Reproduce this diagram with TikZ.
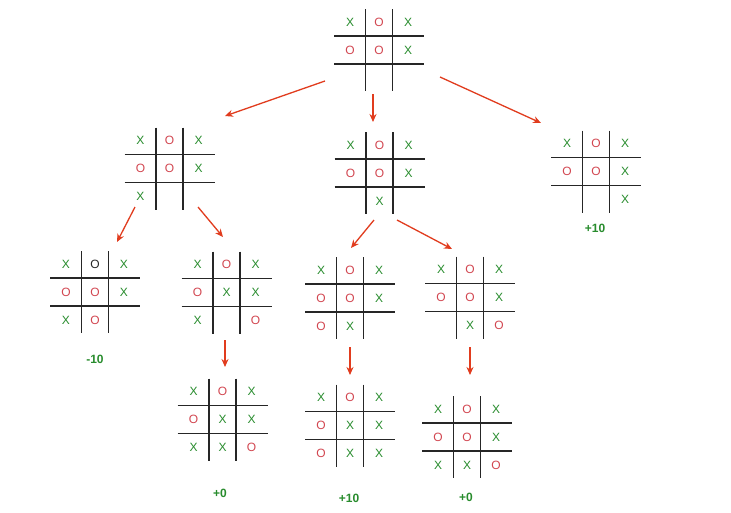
\documentclass[tikz,border=0pt]{standalone}
\usepackage{fontspec}
\setmainfont{Liberation Sans}
\usetikzlibrary{calc,arrows.meta}
\definecolor{xgreen}{RGB}{40,140,45}
\definecolor{ored}{RGB}{210,70,80}
\definecolor{movered}{RGB}{225,60,30}
\tikzset{
  gridline/.style={line width=1.1pt, black!85},
  cellx/.style={text=xgreen, font=\fontsize{12}{14}\selectfont},
  cello/.style={text=ored, font=\fontsize{12}{14}\selectfont},
  cellk/.style={text=black!85, font=\fontsize{12}{14}\selectfont},
  celln/.style={},
  move/.style={movered, line width=1.3pt, -{Stealth[length=8pt,width=7pt]}},
  score/.style={text=xgreen, font=\bfseries\fontsize{12}{14}\selectfont}
}
\def\txtx{X}\def\txto{O}\def\txtk{O}\def\txtn{}
% board: name, centre, nine cells row by row
\newcommand{\board}[3]{%
  \coordinate (#1) at #2;
  \draw[gridline] ($(#1)+(-45,-14)$) -- ($(#1)+(45,-14)$);
  \draw[gridline] ($(#1)+(-45,14)$) -- ($(#1)+(45,14)$);
  \draw[gridline] ($(#1)+(-13.5,-41)$) -- ($(#1)+(-13.5,41)$);
  \draw[gridline] ($(#1)+(13.5,-41)$) -- ($(#1)+(13.5,41)$);
  \foreach \c [count=\i from 0] in {#3} {
    \pgfmathtruncatemacro\col{mod(\i,3)}
    \pgfmathtruncatemacro\row{div(\i,3)}
    \node[cell\c] (#1-\i) at ($(#1)+(\col*29-29,\row*28-28)$) {\csname txt\c\endcsname};
  }
}
\begin{document}
\begin{tikzpicture}[x=1pt, y=-1pt]
  \useasboundingbox[fill=white] (0,0) rectangle (731,512);
  \board{root}{(379,50)}{x,o,x,o,o,x,n,n,n}
  \board{left}{(169.5,168.5)}{x,o,x,o,o,x,x,n,n}
  \board{mid}{(379.5,173)}{x,o,x,o,o,x,n,x,n}
  \board{right}{(596,171.5)}{x,o,x,o,o,x,n,n,x}
  \board{ll}{(95,292)}{x,k,x,o,o,x,x,o,n}
  \board{lr}{(226.5,292.5)}{x,o,x,o,x,x,x,n,o}
  \board{ml}{(350,298)}{x,o,x,o,o,x,o,x,n}
  \board{mr}{(470,297.5)}{x,o,x,o,o,x,n,x,o}
  \board{lrd}{(222.5,419.5)}{x,o,x,o,x,x,x,x,o}
  \board{mld}{(350,425.5)}{x,o,x,o,x,x,o,x,x}
  \board{mrd}{(467,437)}{x,o,x,o,o,x,x,x,o}
  % scores
  \node[score] (s-right) at (595,228) {+10};
  \node[score] (s-ll) at (95,359) {-10};
  \node[score] (s-lrd) at (220,493) {+0};
  \node[score] (s-mld) at (349,498) {+10};
  \node[score] (s-mrd) at (466,497) {+0};
  % arrow ends
  \coordinate (root-a) at (325,81);  \coordinate (left-in) at (225,116);
  \coordinate (root-b) at (373,94);  \coordinate (mid-in) at (373,122);
  \coordinate (root-c) at (440,77);  \coordinate (right-in) at (541,123);
  \coordinate (left-a) at (135,207); \coordinate (ll-in) at (117,242);
  \coordinate (left-b) at (198,207); \coordinate (lr-in) at (223,237);
  \coordinate (mid-a) at (374,220);  \coordinate (ml-in) at (351,248);
  \coordinate (mid-b) at (397,220);  \coordinate (mr-in) at (452,249);
  \coordinate (lr-a) at (225,340);   \coordinate (lrd-in) at (225,367);
  \coordinate (ml-a) at (350,347);   \coordinate (mld-in) at (350,375);
  \coordinate (mr-a) at (470,347);   \coordinate (mrd-in) at (470,375);
  \foreach \a/\b in {root-a/left-in, root-b/mid-in, root-c/right-in,
      left-a/ll-in, left-b/lr-in, mid-a/ml-in, mid-b/mr-in,
      lr-a/lrd-in, ml-a/mld-in, mr-a/mrd-in}
    \draw[move] (\a) -- (\b);
\end{tikzpicture}
\end{document}
